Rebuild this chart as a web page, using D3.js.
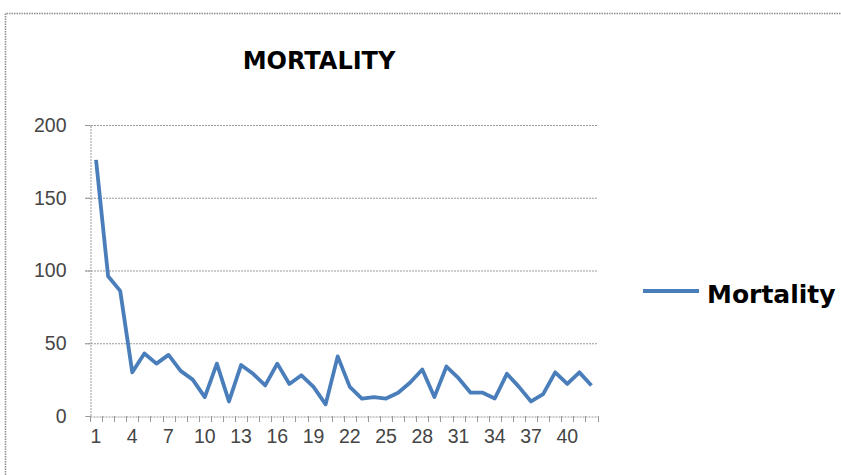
<!DOCTYPE html>
<html><head><meta charset="utf-8">
<script src="https://cdn.jsdelivr.net/npm/d3@7"></script>
<style>body{margin:0;background:#fff;}svg{display:block;}</style>
</head><body>
<svg id="c" width="841" height="475"></svg>
<script>
const categories = d3.range(1, 43);
const mortality = [176, 96, 86, 30, 43, 36, 42, 31, 25, 13, 36, 10, 35, 29, 21, 36, 22, 28, 20, 8, 41, 20, 12, 13, 12, 16, 23, 32, 13, 34, 26, 16, 16, 12, 29, 20, 10, 15, 30, 22, 30, 21];
const yTicks = [0, 50, 100, 150, 200];
const xTickLabels = [1, 4, 7, 10, 13, 16, 19, 22, 25, 28, 31, 34, 37, 40];
const title = "MORTALITY";
const seriesName = "Mortality";

(function () {
const svg = d3.select("#c");
const boldFont = "'DejaVu Sans', sans-serif";
const tickFont = "'Liberation Sans', Arial, sans-serif";
const pLeft = 90, pRight = 597.5, pTop = 125, pBottom = 416;
const x = d3.scaleBand().domain(categories).range([pLeft, pRight]);
const y = d3.scaleLinear().domain([0, 200]).range([pBottom, pTop]);
const lineColor = "#4a7ebb";

// outer border
svg.append("path").attr("d", "M5.5,475 V13.5 H841")
  .attr("fill", "none").attr("stroke", "#8c8c8c").attr("stroke-width", 1.5).attr("stroke-dasharray", "1.5,1");

// title
svg.append("text").attr("x", 319).attr("y", 69).attr("text-anchor", "middle")
  .attr("font-family", boldFont).attr("font-weight", "bold").attr("font-size", 24).attr("fill", "#000").text(title);

// gridlines
svg.append("g").selectAll("line").data(yTicks.filter(d => d > 0)).join("line")
  .attr("x1", pLeft - 5).attr("x2", pRight).attr("y1", d => y(d) + 0.5).attr("y2", d => y(d) + 0.5)
  .attr("stroke", "#9a9a9a").attr("stroke-width", 1).attr("stroke-dasharray", "2,1");

// y axis
const yAxis = svg.append("g").attr("transform", `translate(${pLeft + 0.5},0)`)
  .call(d3.axisLeft(y).tickValues(yTicks).tickSize(5).tickPadding(19));
yAxis.select(".domain").attr("stroke", "#9a9a9a").attr("stroke-dasharray", "2,1");
yAxis.selectAll(".tick line").attr("stroke", "#9a9a9a");
yAxis.selectAll("text").attr("font-family", tickFont).attr("font-size", 19.5).attr("fill", "#454545");

// x axis
const xAxis = svg.append("g").attr("transform", `translate(0,${pBottom + 0.5})`)
  .call(d3.axisBottom(x).tickValues(xTickLabels).tickSize(0).tickPadding(13));
xAxis.select(".domain").attr("stroke", "#9a9a9a").attr("stroke-dasharray", "2,1");
xAxis.selectAll("text").attr("font-family", tickFont).attr("font-size", 19.5).attr("fill", "#454545");
// category boundary ticks
svg.append("g").selectAll("line").data(categories.concat([null])).join("line")
  .attr("x1", (d, i) => Math.round(pLeft + i * x.step()) + 0.5)
  .attr("x2", (d, i) => Math.round(pLeft + i * x.step()) + 0.5)
  .attr("y1", pBottom).attr("y2", pBottom + 6)
  .attr("stroke", "#9a9a9a").attr("stroke-width", 1);

// line
const line = d3.line().x((d, i) => x(categories[i]) + x.bandwidth() / 2).y(d => y(d));
svg.append("path").datum(mortality).attr("d", line)
  .attr("fill", "none").attr("stroke", lineColor).attr("stroke-width", 3.8).attr("stroke-linejoin", "round");

// legend
svg.append("line").attr("x1", 643).attr("x2", 699).attr("y1", 291).attr("y2", 291)
  .attr("stroke", lineColor).attr("stroke-width", 3.8);
svg.append("text").attr("x", 707).attr("y", 303).attr("font-family", boldFont).attr("font-weight", "bold")
  .attr("font-size", 25).attr("fill", "#000").text(seriesName);
})();
</script>
</body></html>
